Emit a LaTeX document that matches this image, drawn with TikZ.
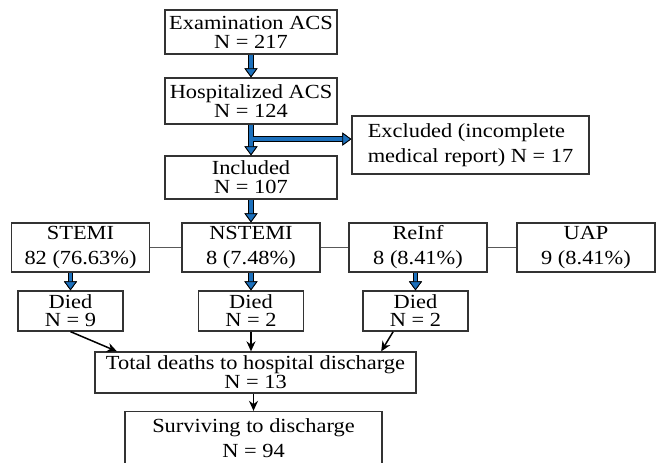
\documentclass[tikz,border=0pt]{standalone}
\usepackage{fontspec}
\setmainfont{Liberation Serif}[FakeStretch=1.12]
\usetikzlibrary{arrows.meta,calc}
\definecolor{arrowblue}{RGB}{28,112,188}

\begin{document}
\begin{tikzpicture}
[
x=0.5pt, y=-0.5pt,
box/.style={draw=black!80, line width=0.65pt, inner sep=0pt, align=center, font=\fontsize{10}{9.5}\selectfont},
loose/.style={font=\fontsize{10}{12.5}\selectfont},
stage/.style={box, minimum width=86pt},
group/.style={box, loose, minimum width=69pt, minimum height=24.5pt},
died/.style={box, minimum width=52.5pt, minimum height=20pt, font=\fontsize{10}{9}\selectfont},
bluehead/.tip={Triangle[length=4.5pt, width=6.5pt, color=black, fill=arrowblue, line width=0.4pt]},
flow/.style={draw=arrowblue, line width=1.8pt, -{bluehead}, preaction={draw=black, line width=2.8pt, -{bluehead}}},
link/.style={draw=black, line width=0.75pt, -{Stealth[length=5pt, width=4.5pt]}},
tie/.style={draw=black!65, line width=0.5pt}
]
\path[use as bounding box, fill=white] (0,0) rectangle (660,462);

%Nodes
\node[stage, minimum height=22pt]   (exam)   at (251,32)                          {Examination ACS\\N = 217};
\node[stage, minimum height=23pt]   (hosp)   [node distance=34.5pt, below of=exam]  {Hospitalized ACS\\N = 124};
\node[stage, minimum height=21.5pt] (incl)   [node distance=38.25pt, below of=hosp] {Included\\N = 107};
\node[box, loose, align=left, minimum width=118.5pt, minimum height=29pt] (excl) at (470.5,145) {Excluded (incomplete\\medical report) N = 17};
\node[group]  (nstemi) [node distance=35pt, below of=incl]     {NSTEMI\\8 (7.48\%)};
\node[group]  (stemi)  [node distance=85.25pt, left of=nstemi] {STEMI\\82 (76.63\%)};
\node[group]  (reinf)  [node distance=83.5pt, right of=nstemi] {ReInf\\8 (8.41\%)};
\node[group]  (uap)    [node distance=84pt, right of=reinf]    {UAP\\9 (8.41\%)};
\node[died]   (died1)  at (70.5,311)                           {Died\\N = 9};
\node[died]   (died2)  [node distance=31.75pt, below of=nstemi] {Died\\N = 2};
\node[died]   (died3)  at (415.5,311)                          {Died\\N = 2};
\node[box, minimum width=160.5pt, minimum height=20.5pt] (total) at (255.5,372.5) {Total deaths to hospital discharge\\N = 13};
\node[box, loose, minimum width=128.5pt, minimum height=27pt] (surv) at (253.5,438.5) {Surviving to discharge\\N = 94};

%Lines
\draw[tie] (stemi) -- (nstemi) (nstemi) -- (reinf) (reinf) -- (uap);
\draw[flow] (exam.south) -- (hosp.north);
\draw[flow] (hosp.south) -- (incl.north);
\coordinate (split) at ($(hosp.south)!0.47!(incl.north)$);
\draw[flow] ([xshift=0.9pt]split) -- (split -| excl.west);
\draw[flow] (incl.south) -- (nstemi.north);
\draw[flow] (stemi.south -| died1.north) -- (died1.north);
\draw[flow] (nstemi.south) -- (died2.north);
\draw[flow] (reinf.south -| died3.north) -- (died3.north);
\draw[link] (died1.south) -- ($(total.north west)!0.07!(total.north east)$);
\draw[link] (died2.south) -- (died2.south |- total.north);
\draw[link] ($(died3.south west)!0.29!(died3.south east)$) -- ($(total.north west)!0.89!(total.north east)$);
\draw[link] (total.south -| surv.north) -- (surv.north);
\end{tikzpicture}
\end{document}
